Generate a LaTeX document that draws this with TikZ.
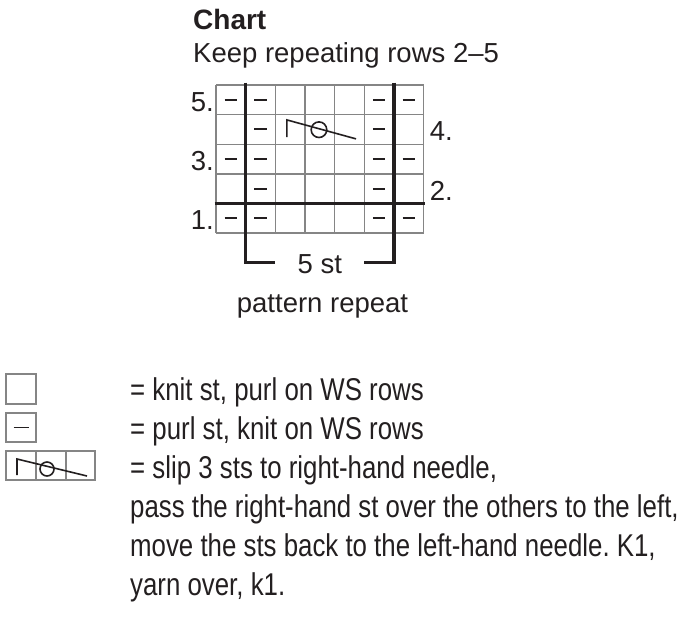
\documentclass[tikz,border=0pt]{standalone}
\usepackage{fontspec}
\setmainfont{Liberation Sans}
\newfontfamily\keyfont{Liberation Sans}[FakeStretch=0.82]
\usetikzlibrary{positioning}
\frenchspacing
\definecolor{chartink}{HTML}{231F20}
\definecolor{chartgrid}{HTML}{858585}
\tikzset{
  charttext/.style={font=\fontsize{27.5}{32}\selectfont, text=chartink, inner sep=0pt},
  charttitle/.style={font=\fontsize{28}{32}\selectfont\bfseries, text=chartink, inner sep=0pt},
  keytext/.style={font=\keyfont\fontsize{31.5}{38}\selectfont, text=chartink, inner sep=0pt,
    anchor=base west},
  gridline/.style={draw=chartgrid, line width=1.4pt},
  repeatline/.style={draw=chartink, line width=3.4pt},
  purlmark/.style={draw=chartink, line width=1.9pt},
  slipmark/.style={draw=chartink, line width=1.6pt}
}

\begin{document}
\begin{tikzpicture}[x=1pt,y=-1pt]
  \useasboundingbox (0,0) rectangle (687,630);
  \node[charttitle, anchor=base west] (title) at (193,29) {Chart};
  \node[charttext, anchor=base west] (keep) at (193,62) {Keep repeating rows 2--5};

  % chart: 7 columns x 5 rows, cell units
  \begin{scope}[shift={(216,233)}, x=29.67pt, y=29.6pt]
    \foreach \c in {0,...,7} \draw[gridline] (\c,0) -- (\c,5);
    \foreach \r in {0,...,5} \draw[gridline] (0,\r) -- (7,\r);
    \foreach \c/\r in {1/1,2/1,6/1,7/1, 2/2,6/2, 1/3,2/3,6/3,7/3, 2/4,6/4, 1/5,2/5,6/5,7/5}
      \draw[purlmark] (\c-0.71,\r-0.5) -- (\c-0.29,\r-0.5);
    \draw[slipmark] (2.39,3.24) -- (2.39,3.82) -- (4.72,3.18);
    \draw[slipmark] (3.47,3.49) circle[radius=7.8pt];
    \draw[repeatline] (-0.05,1) -- (7.05,1);
    \draw[repeatline] (1,5.08) -- (1,-1) -- (2,-1);
    \draw[repeatline] (6,5.08) -- (6,-1) -- (5,-1);
    \foreach \r in {5,3,1}
      \node[charttext, anchor=base east] (row\r) at (-0.07,\r-0.89) {\r.};
    \foreach \r in {4,2}
      \node[charttext, anchor=base west] (row\r) at (7.2,\r-0.89) {\r.};
    \node[charttext, anchor=base] (width) at (3.5,-1.36) {5 st};
    \node[charttext, anchor=base] (repeat) at (3.59,-2.67) {pattern repeat};
  \end{scope}

  % key
  \draw[gridline] (6,374) rectangle (36,404);
  \draw[gridline] (6,413) rectangle (36,442);
  \draw[purlmark] (13.5,427.5) -- (28.5,427.5);
  \draw[gridline] (6,451) rectangle (95,480);
  \draw[gridline] (36,451) -- (36,480) (66,451) -- (66,480);
  \draw[slipmark] (17,475) -- (17,459) -- (87,476);
  \draw[slipmark] (47,469) circle[radius=7pt];

  \node[keytext] (knit) at (130,400) {= knit st, purl on WS rows};
  \node[keytext] (purl) at (130,439) {= purl st, knit on WS rows};
  \node[keytext] (slip) at (130,478) {= slip 3 sts to right-hand needle,};
  \node[keytext] (slippass) at (130,517) {pass the right-hand st over the others to the left,};
  \node[keytext] (slipmove) at (130,556) {move the sts back to the left-hand needle. K1,};
  \node[keytext] (slipyarn) at (130,595) {yarn over, k1.};
\end{tikzpicture}
\end{document}
